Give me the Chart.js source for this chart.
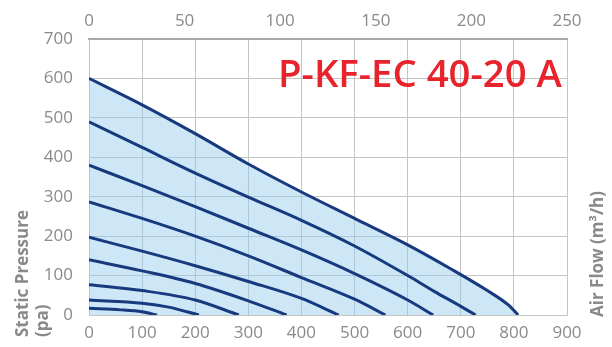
<!DOCTYPE html>
<html>
<head>
<meta charset="utf-8">
<script src="https://cdn.jsdelivr.net/npm/chart.js@4/dist/chart.umd.min.js"></script>
<style>
  html, body { margin: 0; padding: 0; background: #fff; }
  #wrap { width: 612px; height: 347px; position: relative; }
</style>
</head>
<body>
<div id="wrap"><canvas id="fanChart" width="612" height="347"></canvas></div>
<script>
// Fan curves, air flow (m3/h, bottom axis) vs static pressure (pa)
const curve1 = [[0, 600], [100, 533], [200, 460], [300, 383], [400, 312], [500, 245], [600, 178], [680, 118], [750, 62], [790, 25], [808, 0]];
const curve2 = [[0, 490], [100, 425], [200, 360], [300, 299], [400, 240], [500, 175], [600, 100], [650, 60], [700, 22], [728, 0]];
const curve3 = [[0, 380], [100, 328], [200, 275], [300, 220], [400, 165], [500, 105], [600, 38], [648, 0]];
const curve4 = [[0, 287], [100, 245], [200, 200], [300, 150], [400, 95], [500, 40], [558, 0]];
const curve5 = [[0, 197], [100, 162], [200, 125], [300, 85], [400, 42], [470, 0]];
const curve6 = [[0, 140], [100, 112], [200, 80], [300, 36], [372, 0]];
const curve7 = [[0, 77], [100, 62], [200, 38], [282, 0]];
const curve8 = [[0, 38], [100, 30], [150, 20], [207, 0]];
const curve9 = [[0, 17], [60, 13], [100, 8], [128, 0]];
const curves = [curve1, curve2, curve3, curve4, curve5, curve6, curve7, curve8, curve9];

const bottomTicks = [0, 100, 200, 300, 400, 500, 600, 700, 800, 900];
const topTicks = [0, 50, 100, 150, 200, 250];
const yTicks = [0, 100, 200, 300, 400, 500, 600, 700];

const modelName = 'P-KF-EC 40-20 A';
const yTitle = ['Static Pressure', '(pa)'];
const xTitle = 'Air Flow (m\u00B3/h)';

const LINE = '#173a7f';
const GRID = '#c4c4c4';
const TEXT = '#8a8a8a';
const FONT = "'Open Sans', 'DejaVu Sans', sans-serif";

const datasets = curves.map((c, i) => ({
  data: c.map(p => ({ x: p[0], y: p[1] })),
  borderColor: LINE,
  borderWidth: 3,
  pointRadius: 0,
  cubicInterpolationMode: 'monotone',
  fill: i === 0 ? 'origin' : false,
  backgroundColor: i === 0 ? 'rgba(150, 205, 238, 0.48)' : 'transparent',
}));

// titles and the model label drawn on top of the chart
const labelsPlugin = {
  id: 'labels',
  afterDraw(chart) {
    const ctx = chart.ctx;
    ctx.save();
    ctx.fillStyle = TEXT;
    ctx.font = `bold 17px ${FONT}`;
    ctx.textBaseline = 'middle';
    ctx.textAlign = 'left';
    // left title, rotated, reading bottom to top
    ctx.save();
    ctx.translate(23, 337);
    ctx.rotate(-Math.PI / 2);
    ctx.fillText(yTitle[0], 0, 0);
    ctx.fillText(yTitle[1], 0, 20);
    ctx.restore();
    // right title
    ctx.save();
    ctx.translate(598, 317);
    ctx.rotate(-Math.PI / 2);
    ctx.fillText(xTitle, 0, 0);
    ctx.restore();
    // model name
    ctx.fillStyle = '#e8232b';
    let size = 36;
    ctx.font = `600 ${size}px ${FONT}`;
    const w = ctx.measureText(modelName).width;
    size = size * 284 / w;
    ctx.font = `600 ${size}px ${FONT}`;
    ctx.textBaseline = 'alphabetic';
    ctx.fillText(modelName, 278, 87);
    ctx.restore();
  }
};

const tickFont = { size: 17, family: FONT };

const chart = new Chart(document.getElementById('fanChart'), {
  type: 'line',
  data: { datasets },
  plugins: [labelsPlugin],
  options: {
    responsive: false,
    animation: false,
    events: [],
    layout: { padding: { left: 0, right: 45, top: 0, bottom: 0 } },
    plugins: {
      legend: { display: false },
      tooltip: { enabled: false },
      filler: { drawTime: 'beforeDatasetsDraw' },
    },
    scales: {
      x: {
        type: 'linear',
        position: 'bottom',
        min: 0, max: 900,
        afterBuildTicks: s => { s.ticks = bottomTicks.map(v => ({ value: v })); },
        afterFit: s => { s.height = 32; },
        grid: { color: GRID, drawTicks: false },
        border: { color: GRID },
        ticks: { color: TEXT, font: tickFont, padding: 8, maxRotation: 0 },
      },
      x2: {
        type: 'linear',
        position: 'top',
        min: 0, max: 250,
        afterBuildTicks: s => { s.ticks = topTicks.map(v => ({ value: v })); },
        afterFit: s => { s.height = 39; },
        grid: { display: false, drawTicks: false },
        border: { color: '#a8a8a8', width: 2 },
        ticks: { color: TEXT, font: tickFont, padding: 8, maxRotation: 0 },
      },
      y: {
        type: 'linear',
        min: 0, max: 700,
        afterBuildTicks: s => { s.ticks = yTicks.map(v => ({ value: v })); },
        afterFit: s => { s.width = 89; },
        grid: { color: GRID, drawTicks: false },
        border: { color: GRID },
        ticks: { color: TEXT, font: tickFont, padding: 16 },
      },
    },
  },
});
</script>
</body>
</html>
